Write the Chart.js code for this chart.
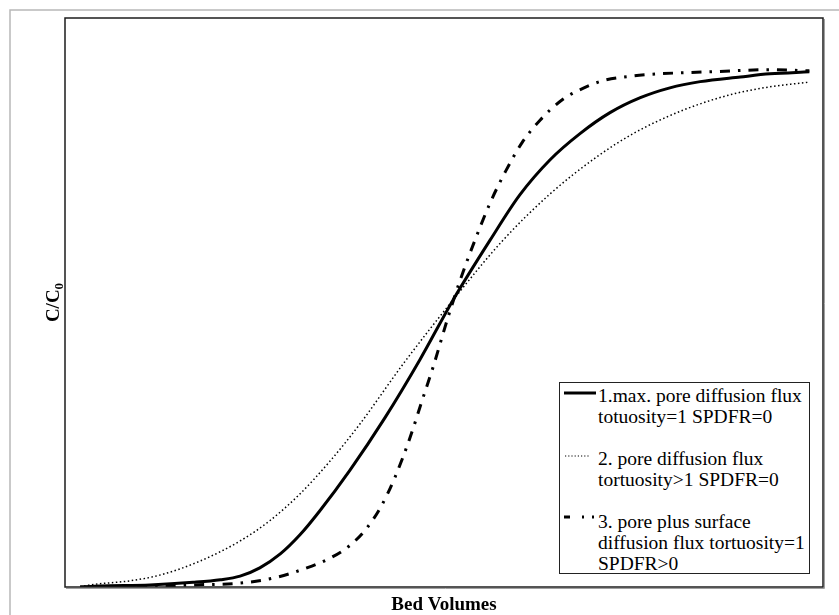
<!DOCTYPE html>
<html>
<head>
<meta charset="utf-8">
<script src="https://cdn.jsdelivr.net/npm/chart.js@4/dist/chart.umd.min.js"></script>
<style>
    body { margin: 0; background: #fff; font-family: "Liberation Serif", "Times New Roman", Times, serif; }
    #wrap { position: relative; width: 839px; height: 615px; }
    #legend {
        position: absolute; left: 559px; top: 382px; width: 251px; height: 192px;
        box-sizing: border-box; border: 1px solid #222; background: #fff; overflow: hidden;
        font-family: "Liberation Serif", "Times New Roman", Times, serif; font-size: 19.5px; line-height: 21px;
        color: #000; padding-top: 2px;
    }
    .entry { position: relative; padding-left: 38px; margin-bottom: 21px; white-space: nowrap; }
    .entry svg { position: absolute; left: 3px; top: 0; }
</style>
</head>
<body>
<div id="wrap">
    <canvas id="breakthrough" width="839" height="615"></canvas>
    <div id="legend"></div>
</div>
<script>
// breakthrough curves, x in % of run length, y = C/C0
const solidX = [2.0, 4.6, 11.2, 16.9, 20.5, 23.1, 25.7, 28.4, 31.0, 33.6, 37.6, 42.2, 46.8, 51.2, 56.1, 60.0, 64.0, 67.9, 71.9, 75.9, 79.8, 83.8, 89.1, 93.0, 98.2];
const solidY = [0, 0.002, 0.004, 0.009, 0.014, 0.021, 0.037, 0.064, 0.101, 0.147, 0.226, 0.327, 0.439, 0.555, 0.671, 0.758, 0.826, 0.876, 0.917, 0.946, 0.965, 0.977, 0.986, 0.992, 0.996];

const dottedX = [2.0, 3.3, 8.6, 12.5, 17.8, 23.1, 27.0, 31.0, 35.0, 38.9, 44.6, 51.2, 57.7, 64.0, 70.2, 74.9, 79.6, 83.8, 88.4, 93.0, 98.2];
const dottedY = [0, 0.004, 0.012, 0.023, 0.050, 0.089, 0.128, 0.180, 0.244, 0.315, 0.431, 0.555, 0.669, 0.760, 0.832, 0.876, 0.910, 0.934, 0.954, 0.967, 0.976];

const dashDotX = [2.0, 11.2, 16.9, 23.5, 28.0, 31.9, 35.0, 37.3, 39.6, 41.6, 43.5, 45.5, 47.1, 48.6, 50.5, 52.1, 54.1, 56.1, 58.1, 60.3, 62.7, 65.6, 67.6, 71.0, 74.9, 77.2, 81.1, 85.1, 93.0, 98.2];
const dashDotY = [0, 0.001, 0.004, 0.008, 0.019, 0.037, 0.056, 0.077, 0.110, 0.153, 0.211, 0.288, 0.360, 0.427, 0.520, 0.592, 0.671, 0.743, 0.803, 0.859, 0.903, 0.942, 0.959, 0.979, 0.988, 0.991, 0.994, 0.996, 1.000, 0.998];

const legendLines = [
    ['1.max. pore diffusion flux', 'totuosity=1 SPDFR=0'],
    ['2. pore diffusion flux', 'tortuosity>1 SPDFR=0'],
    ['3. pore plus surface', 'diffusion flux tortuosity=1', 'SPDFR>0']
];

const xTitle = 'Bed Volumes';
const yTitle = 'C/C';
const yTitleSub = '0';

function toPoints(xs, ys) {
    return xs.map((x, i) => ({ x: x, y: ys[i] }));
}

// outer gray frame, plot border and the two axis titles
const decorations = {
    id: 'decorations',
    beforeDraw(chart) {
        const ctx = chart.ctx;
        ctx.save();
        ctx.strokeStyle = '#b8b8b8';
        ctx.lineWidth = 1.5;
        ctx.beginPath();
        ctx.moveTo(10, 615);
        ctx.lineTo(10, 10);
        ctx.lineTo(839, 10);
        ctx.stroke();
        ctx.restore();
    },
    afterDraw(chart) {
        const ctx = chart.ctx;
        const a = chart.chartArea;
        ctx.save();
        ctx.strokeStyle = '#1c1c1c';
        ctx.lineWidth = 1.5;
        ctx.strokeRect(a.left, a.top, a.right - a.left, a.bottom - a.top);
        ctx.strokeStyle = '#a0a0a0';
        ctx.lineWidth = 1;
        ctx.beginPath();
        ctx.moveTo(a.right + 1.5, a.top + 1);
        ctx.lineTo(a.right + 1.5, a.bottom + 1.5);
        ctx.lineTo(a.left + 1, a.bottom + 1.5);
        ctx.stroke();

        ctx.fillStyle = '#000';
        ctx.font = 'bold 19px "Liberation Serif", serif';
        ctx.textAlign = 'center';
        ctx.textBaseline = 'alphabetic';
        ctx.fillText(xTitle, (a.left + a.right) / 2, 610);

        // rotated y title with subscript
        ctx.translate(59, (a.top + a.bottom) / 2);
        ctx.rotate(-Math.PI / 2);
        ctx.textAlign = 'left';
        const mainW = ctx.measureText(yTitle).width;
        ctx.font = 'bold 13px "Liberation Serif", serif';
        const subW = ctx.measureText(yTitleSub).width;
        const start = -(mainW + subW) / 2;
        ctx.fillText(yTitleSub, start + mainW, 4);
        ctx.font = 'bold 19px "Liberation Serif", serif';
        ctx.fillText(yTitle, start, 0);
        ctx.restore();
    }
};

const ctx = document.getElementById('breakthrough').getContext('2d');
new Chart(ctx, {
    type: 'line',
    data: {
        datasets: [
            {
                label: legendLines[0].join(' '),
                data: toPoints(solidX, solidY),
                borderColor: '#000',
                borderWidth: 3,
                cubicInterpolationMode: 'monotone',
                pointRadius: 0,
                fill: false
            },
            {
                label: legendLines[1].join(' '),
                data: toPoints(dottedX, dottedY),
                borderColor: '#000',
                borderWidth: 1.5,
                borderDash: [1.5, 2.5],
                cubicInterpolationMode: 'monotone',
                pointRadius: 0,
                fill: false
            },
            {
                label: legendLines[2].join(' '),
                data: toPoints(dashDotX, dashDotY),
                borderColor: '#000',
                borderWidth: 3,
                borderDash: [10, 8, 2.5, 8],
                cubicInterpolationMode: 'monotone',
                pointRadius: 0,
                fill: false
            }
        ]
    },
    options: {
        responsive: false,
        animation: false,
        devicePixelRatio: 1,
        layout: { padding: { left: 0, top: 18, right: 16, bottom: 0 } },
        scales: {
            x: {
                type: 'linear', min: 0, max: 100,
                ticks: { display: false },
                grid: { display: false },
                border: { display: false },
                afterFit: s => { s.height = 28; }
            },
            y: {
                type: 'linear', min: 0, max: 1.1,
                ticks: { display: false },
                grid: { display: false },
                border: { display: false },
                afterFit: s => { s.width = 65; }
            }
        },
        plugins: {
            legend: { display: false },
            tooltip: { enabled: false }
        }
    },
    plugins: [decorations]
});

// legend with line samples
const samples = [
    '<line x1="1" y1="8" x2="33" y2="8" stroke="#000" stroke-width="3"/>',
    '<line x1="2" y1="8" x2="26" y2="8" stroke="#000" stroke-width="1.2" stroke-dasharray="1.2,2"/>',
    '<line x1="1" y1="6" x2="32" y2="6" stroke="#000" stroke-width="3" stroke-dasharray="6,12,2,8,2,20"/>'
];
document.getElementById('legend').innerHTML = legendLines.map((lines, i) => `
    <div class="entry">
        <svg width="36" height="16">${samples[i]}</svg>
        ${lines.join('<br>')}
    </div>
`).join('');
</script>
</body>
</html>
